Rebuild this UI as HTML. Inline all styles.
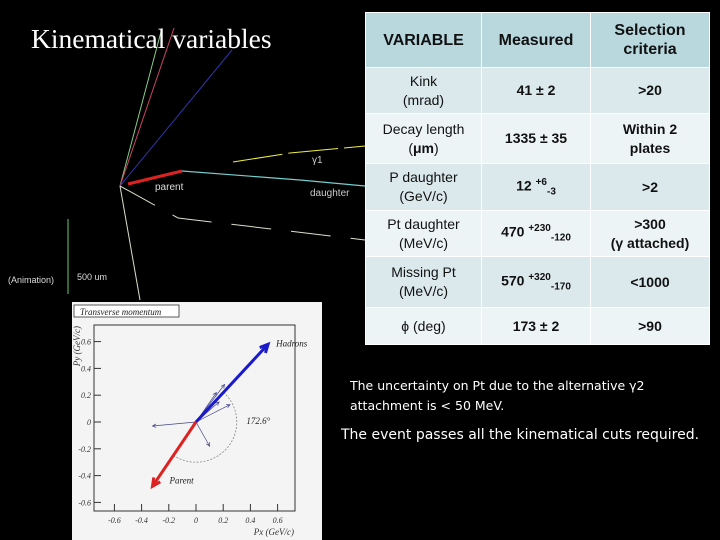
<!DOCTYPE html>
<html><head><meta charset="utf-8"><style>
body{margin:0;background:#000;width:720px;height:540px;overflow:hidden;position:relative;font-family:"Liberation Sans",sans-serif}
#title{position:absolute;left:31px;top:23px;font:27.5px "Liberation Serif",serif;color:#fff}
table{position:absolute;left:365px;top:12px;border-collapse:collapse;font-size:14px;color:#111;table-layout:fixed;width:344px}
td{border:1.5px solid #fff;text-align:center;padding:0;line-height:19px}
tr.h td{background:#b8d8de;font-weight:bold;font-size:16px}
tr.a td{background:#dbe9ec}tr.b td{background:#edf4f6}
td.m,td.c{font-weight:bold}
sup,sub{font-size:10px}
.note{position:absolute;color:#fff;font-family:"DejaVu Sans",sans-serif}
</style></head><body>
<svg width="720" height="540" style="position:absolute;left:0;top:0">
<g stroke-width="1">
<line x1="120" y1="186" x2="162" y2="28" stroke="#8c8"/>
<line x1="120" y1="186" x2="174" y2="28" stroke="#c46"/>
<line x1="120" y1="186" x2="232" y2="50" stroke="#33a"/>
<line x1="120" y1="186" x2="140" y2="300" stroke="#ddc"/>
<polyline points="120,186 178,218 365,240" fill="none" stroke="#ddc" stroke-dasharray="40,20"/>
<polyline points="233,162 290,153 365,146" fill="none" stroke="#ee4" stroke-dasharray="50,6"/>
<polyline points="182,171 300,180 365,186" fill="none" stroke="#7cc" stroke-width="1.2"/>
<line x1="128" y1="184" x2="182" y2="171" stroke="#d22" stroke-width="3"/>
<line x1="68" y1="219" x2="68" y2="294" stroke="#6c6"/>
</g>
<text x="155" y="190" fill="#ddd" font-size="10" font-family="Liberation Sans">parent</text>
<text x="310" y="196" fill="#ccc" font-size="10" font-family="Liberation Sans">daughter</text>
<text x="312" y="163" fill="#ccc" font-size="10" font-family="Liberation Sans">γ1</text>
<text x="8" y="283" fill="#ddd" font-size="9" font-family="Liberation Sans">(Animation)</text>
<text x="77" y="280" fill="#ddd" font-size="9" font-family="Liberation Sans">500 um</text>
</svg>
<div id="title">Kinematical variables</div>

<svg id="pt" width="250" height="238" style="position:absolute;left:72px;top:302px"></svg>

<table>
<colgroup><col style="width:116px"><col style="width:109px"><col style="width:119px"></colgroup>
<tr class="h" style="height:55px"><td>VARIABLE</td><td>Measured</td><td>Selection criteria</td></tr>
<tr class="a" style="height:46px"><td>Kink<br>(mrad)</td><td class="m">41 ± 2</td><td class="c">&gt;20</td></tr>
<tr class="b" style="height:50px"><td>Decay length<br>(<b>μm</b>)</td><td class="m">1335 ± 35</td><td class="c">Within 2<br>plates</td></tr>
<tr class="a" style="height:47px"><td>P daughter<br>(GeV/c)</td><td class="m">12 <sup>+6</sup><sub>-3</sub></td><td class="c">&gt;2</td></tr>
<tr class="b" style="height:46px"><td>Pt daughter<br>(MeV/c)</td><td class="m">470 <sup>+230</sup><sub>-120</sub></td><td class="c">&gt;300<br>(γ attached)</td></tr>
<tr class="a" style="height:51px"><td>Missing Pt<br>(MeV/c)</td><td class="m">570 <sup>+320</sup><sub>-170</sub></td><td class="c">&lt;1000</td></tr>
<tr class="b" style="height:37px"><td>ϕ (deg)</td><td class="m">173 ± 2</td><td class="c">&gt;90</td></tr>
</table>

<div class="note" style="left:350px;top:376px;font-size:12.5px;line-height:20px">The uncertainty on Pt due to the alternative γ2<br>attachment is &lt; 50 MeV.</div>
<div class="note" style="left:341px;top:427px;font-size:14px">The event passes all the kinematical cuts required.</div>

<script>
const xTicks=[-0.6,-0.4,-0.2,0,0.2,0.4,0.6];
const yTicks=[-0.6,-0.4,-0.2,0,0.2,0.4,0.6];
const hadrons=[0.53,0.58];
const parent=[-0.32,-0.48];
const smallX=[-0.32,0.1,0.21,0.15,0.25,0.17];
const smallY=[-0.03,-0.18,0.28,0.22,0.13,0.15];
const angleLabel="172.6°";
const NS="http://www.w3.org/2000/svg";
const svg=document.getElementById('pt');
const X=v=>124+v*136, Y=v=>120-v*134;
function mk(t,a,p){const e=document.createElementNS(NS,t);for(const k in a)e.setAttribute(k,a[k]);(p||svg).appendChild(e);return e;}
let e;
e=mk('rect',{x:0,y:0,width:250,height:238,fill:'#f4f4f4'});


e=mk('rect',{x:22,y:23,width:201,height:186,fill:'none',stroke:'#333','stroke-width':1});


e=mk('rect',{x:2,y:3,width:105,height:12,fill:'#fff',stroke:'#333','stroke-width':0.8});


e=mk('text',{x:8,y:13,'font-size':9,'font-style':'italic','font-family':'Liberation Serif',fill:'#222'});e.textContent='Transverse momentum';


xTicks.forEach(v=>{e=mk('line',{x1:X(v),x2:X(v),y1:209,y2:202,stroke:'#333'});


e=mk('text',{x:X(v),y:221,'font-size':8,'font-style':'italic','font-family':'Liberation Serif','text-anchor':'middle',fill:'#333'});e.textContent=v===0?'0':v.toFixed(1);

});
yTicks.forEach(v=>{e=mk('line',{x1:22,x2:29,y1:Y(v),y2:Y(v),stroke:'#333'});


e=mk('text',{x:19,y:Y(v)+3,'font-size':8,'font-style':'italic','font-family':'Liberation Serif','text-anchor':'end',fill:'#333'});e.textContent=v===0?'0':v.toFixed(1);

});
e=mk('text',{x:222,y:233,'font-size':9,'font-style':'italic','font-family':'Liberation Serif','text-anchor':'end',fill:'#333'});e.textContent='Px (GeV/c)';


e=mk('text',{x:0,y:0,'font-size':9,'font-style':'italic','font-family':'Liberation Serif','text-anchor':'end',fill:'#333',transform:'translate(8,24) rotate(-90)'});e.textContent='Py (GeV/c)';


const r=0.3, a1=Math.atan2(hadrons[1],hadrons[0]), a2=Math.atan2(parent[1],parent[0])+2*Math.PI;
let pts=[];for(let i=0;i<=40;i++){const a=a1-(a1-(a2-2*Math.PI))*i/40;pts.push(X(r*Math.cos(a))+','+Y(r*Math.sin(a)));}
e=mk('polyline',{points:pts.join(' '),fill:'none',stroke:'#888','stroke-width':0.8,'stroke-dasharray':'2,1.5'});


function arrow(x,y,col,w,hs,name){
 const x0=X(0),y0=Y(0),x1=X(x),y1=Y(y),a=Math.atan2(y1-y0,x1-x0);
 const g=mk('g',{});
 
 
 mk('line',{x1:x0,y1:y0,x2:x1,y2:y1,stroke:col,'stroke-width':w},g);
 mk('polyline',{points:`${x1-hs*Math.cos(a-0.45)},${y1-hs*Math.sin(a-0.45)} ${x1},${y1} ${x1-hs*Math.cos(a+0.45)},${y1-hs*Math.sin(a+0.45)}`,fill:'none',stroke:col,'stroke-width':w},g);
}
smallX.forEach((v,i)=>arrow(v,smallY[i],'#448',0.7,4,'track-arrow'));
arrow(hadrons[0],hadrons[1],'#1a1acc',3,9,'hadrons-arrow');
arrow(parent[0],parent[1],'#dd2222',3,9,'parent-arrow');
e=mk('text',{x:X(hadrons[0])+8,y:Y(hadrons[1])+2,'font-size':9,'font-style':'italic','font-family':'Liberation Serif',fill:'#222'});e.textContent='Hadrons';


e=mk('text',{x:X(parent[0])+17,y:Y(parent[1])-3,'font-size':9,'font-style':'italic','font-family':'Liberation Serif',fill:'#222'});e.textContent='Parent';


e=mk('text',{x:X(0.37),y:Y(0)+2,'font-size':9,'font-style':'italic','font-family':'Liberation Serif',fill:'#222'});e.textContent=angleLabel;


</script>
</body></html>
